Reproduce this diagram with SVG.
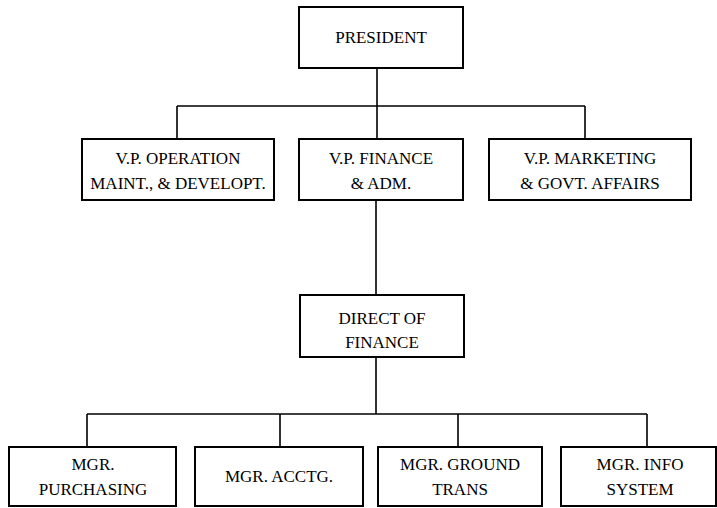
<svg xmlns="http://www.w3.org/2000/svg" width="717" height="508" viewBox="0 0 717 508">
<style>
.box{fill:#fff;stroke:#000;stroke-width:2}
.ln{fill:none;stroke:#000;stroke-width:1.6}
text{font-family:"Liberation Serif","Times New Roman",serif;font-size:17px;fill:#000;text-anchor:middle}
</style>
<rect width="717" height="508" fill="#fff"/>
<g id="connectors">
<path class="ln" d="M377 68V106M177 106H585M177 106V139M377 106V139M585 106V139"/>
<path class="ln" d="M376 200V295M376 357V414M87 414H647M87 414V447M280 414V447M458 414V447M647 414V447"/>
</g>
<g id="president"><rect class="box" x="299" y="7" width="164" height="61"/><text x="381" y="43">PRESIDENT</text></g>
<g id="vp-operation"><rect class="box" x="82" y="139" width="192" height="61"/><text x="178" y="164">V.P. OPERATION</text><text x="178" y="189">MAINT., &amp; DEVELOPT.</text></g>
<g id="vp-finance"><rect class="box" x="299" y="139" width="164" height="61"/><text x="381" y="164">V.P. FINANCE</text><text x="381" y="189">&amp; ADM.</text></g>
<g id="vp-marketing"><rect class="box" x="489" y="139" width="202" height="61"/><text x="590" y="164">V.P. MARKETING</text><text x="590" y="189">&amp; GOVT. AFFAIRS</text></g>
<g id="direct-finance"><rect class="box" x="300" y="295" width="164" height="62"/><text x="382" y="324">DIRECT OF</text><text x="382" y="348">FINANCE</text></g>
<g id="mgr-purchasing"><rect class="box" x="9" y="447" width="167" height="59"/><text x="93" y="470">MGR.</text><text x="93" y="495">PURCHASING</text></g>
<g id="mgr-acctg"><rect class="box" x="195" y="447" width="168" height="59"/><text x="279" y="482">MGR. ACCTG.</text></g>
<g id="mgr-ground"><rect class="box" x="378" y="447" width="164" height="59"/><text x="460" y="470">MGR. GROUND</text><text x="460" y="495">TRANS</text></g>
<g id="mgr-info"><rect class="box" x="561" y="447" width="155" height="59"/><text x="640" y="470">MGR. INFO</text><text x="640" y="495">SYSTEM</text></g>
</svg>
